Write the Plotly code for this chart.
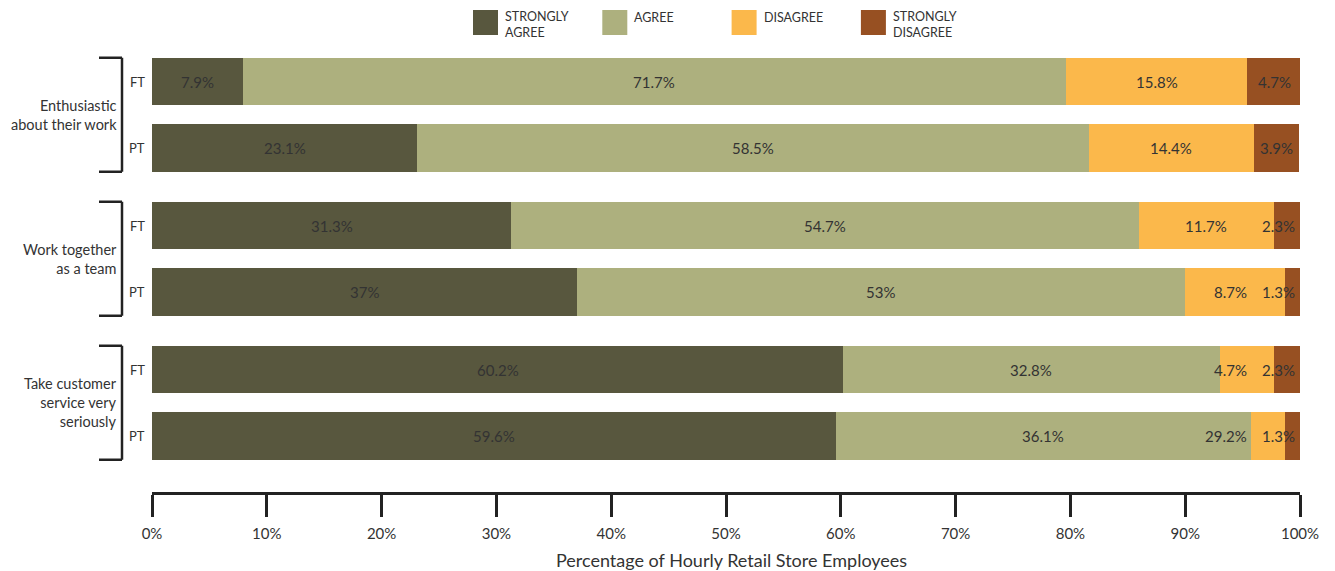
import plotly.graph_objects as go

# ---------------- data ----------------
groups = ["Enthusiastic<br>about their work", "Work together<br>as a team", "Take customer<br>service very<br>seriously"]
subgroups = ["FT", "PT"]
series_names = ["STRONGLY<br>AGREE", "AGREE", "DISAGREE", "STRONGLY<br>DISAGREE"]
series_colors = ["#58573E", "#ADB07E", "#FBB84B", "#975022"]

# rows: Enth FT, Enth PT, Team FT, Team PT, Cust FT, Cust PT
strongly_agree = [7.9, 23.1, 31.3, 37.0, 60.2, 59.6]
agree = [71.7, 58.5, 54.7, 53.0, 32.8, 36.1]
disagree = [15.8, 14.4, 11.7, 8.7, 4.7, 3.0]
strongly_disagree = [4.7, 3.9, 2.3, 1.3, 2.3, 1.3]

label_sa = ["7.9%", "23.1%", "31.3%", "37%", "60.2%", "59.6%"]
label_a = ["71.7%", "58.5%", "54.7%", "53%", "32.8%", "36.1%"]
label_d = ["15.8%", "14.4%", "11.7%", "8.7%", "4.7%", "29.2%"]
label_sd = ["4.7%", "3.9%", "2.3%", "1.3%", "2.3%", "1.3%"]

x_ticks = [0, 10, 20, 30, 40, 50, 60, 70, 80, 90, 100]
x_ticktext = ["0%", "10%", "20%", "30%", "40%", "50%", "60%", "70%", "80%", "90%", "100%"]
x_title = "Percentage of Hourly Retail Store Employees"

# ---------------- layout helpers ----------------
FONT = "Lato"
TXT = "#333333"
OFF = 8  # page body margin offset
PLOT_L, PLOT_R, PLOT_T, PLOT_B = 152, 1300, 50, 492  # target pixel box in screenshot
W, H = 1335 - OFF, 571 - OFF
L = PLOT_L - OFF
T = PLOT_T - OFF
R = W - (PLOT_R - OFF)
B = H - (PLOT_B - OFF)
PW = PLOT_R - PLOT_L
PH = PLOT_B - PLOT_T


def px_x(px):
    return (px - PLOT_L) / PW


def px_y(py):
    return (PLOT_B - py) / PH


UNIT = 66.5            # px per y unit
GPITCH = 144 / UNIT    # group pitch
BARW = 47.5 / UNIT
FIRST = 81.5           # px centre of first bar

ypos = []
for g in range(len(groups)):
    for s in range(len(subgroups)):
        ypos.append(g * GPITCH + s)

series_vals = [strongly_agree, agree, disagree, strongly_disagree]
series_labels = [label_sa, label_a, label_d, label_sd]

fig = go.Figure()
for name, col, vals in zip(series_names, series_colors, series_vals):
    fig.add_trace(go.Bar(
        x=vals, y=ypos, orientation="h", width=BARW,
        marker=dict(color=col, line=dict(width=0)),
        name=name.replace("<br>", " "), hoverinfo="skip", showlegend=False,
    ))

annotations = []
shapes = []

# value labels (segment centres, nudged left to avoid overlaps)
CH = 0.78   # approx char width in % units
for i in range(len(ypos)):
    starts = []
    c = 0
    for vals in series_vals:
        starts.append(c)
        c += vals[i]
    limit = 99.7
    for k in range(len(series_vals) - 1, -1, -1):
        w = series_vals[k][i]
        txt = series_labels[k][i]
        tw = len(txt) * CH
        center = starts[k] + w / 2
        if center + tw / 2 > limit:
            x, anchor, left = limit, "right", limit - tw
        else:
            x, anchor, left = center, "center", center - tw / 2
        limit = left - 1.0
        annotations.append(dict(
            x=x, y=ypos[i], xref="x", yref="y", text=txt, showarrow=False,
            xanchor=anchor, yanchor="middle",
            font=dict(family=FONT, size=15, color=TXT),
        ))

# FT / PT labels
for i, yp in enumerate(ypos):
    annotations.append(dict(
        x=px_x(147), y=yp, xref="paper", yref="y", text=subgroups[i % 2],
        showarrow=False, xanchor="right", yanchor="middle",
        font=dict(family=FONT, size=13, color=TXT),
    ))

# group labels and brackets
bx = px_x(122)
bx0 = px_x(99)
for g, gname in enumerate(groups):
    top = g * GPITCH - BARW / 2
    bot = g * GPITCH + 1 + BARW / 2
    mid = g * GPITCH + 0.5
    line = dict(color="#222222", width=2.5)
    shapes.append(dict(type="line", xref="paper", yref="y", x0=bx, x1=bx, y0=top, y1=bot, line=line))
    shapes.append(dict(type="line", xref="paper", yref="y", x0=bx0, x1=bx, y0=top, y1=top, line=line))
    shapes.append(dict(type="line", xref="paper", yref="y", x0=bx0, x1=bx, y0=bot, y1=bot, line=line))
    annotations.append(dict(
        x=px_x(119), y=mid, xref="paper", yref="y", text=gname, showarrow=False,
        xanchor="right", yanchor="middle", align="right",
        font=dict(family=FONT, size=14.5, color=TXT),
    ))

# custom legend
for i, (name, col) in enumerate(zip(series_names, series_colors)):
    sx = 473 + i * 129.3
    shapes.append(dict(type="rect", xref="paper", yref="paper",
                       x0=px_x(sx), x1=px_x(sx + 25), y0=px_y(35), y1=px_y(10),
                       fillcolor=col, line=dict(width=0)))
    nlines = name.count("<br>") + 1
    annotations.append(dict(
        x=px_x(sx + 30), y=px_y(17.5 + 7 * (nlines - 1)), xref="paper", yref="paper",
        text=name, showarrow=False, xanchor="left", yanchor="middle", align="left",
        font=dict(family=FONT, size=12.5, color=TXT),
    ))

# axis title
annotations.append(dict(
    x=px_x(731), y=px_y(560), xref="paper", yref="paper", text=x_title, showarrow=False,
    xanchor="center", yanchor="middle",
    font=dict(family=FONT, size=18, color=TXT),
))

y_bottom = (PLOT_B - FIRST) / UNIT
y_top = (PLOT_T - FIRST) / UNIT

fig.update_layout(
    width=W, height=H,
    margin=dict(l=L, r=R, t=T, b=B, pad=0),
    barmode="stack",
    plot_bgcolor="white", paper_bgcolor="white",
    font=dict(family=FONT, color=TXT),
    showlegend=False,
    annotations=annotations,
    shapes=shapes,
    xaxis=dict(
        range=[0, 100], tickmode="array", tickvals=x_ticks, ticktext=x_ticktext,
        showgrid=False, zeroline=False,
        showline=True, linecolor="#222222", linewidth=2.5,
        ticks="outside", ticklen=22, tickwidth=2.5, tickcolor="#222222",
        ticklabelstandoff=4,
        tickfont=dict(family=FONT, size=15, color=TXT),
        fixedrange=True,
    ),
    yaxis=dict(
        range=[y_bottom, y_top], showgrid=False, zeroline=False,
        showticklabels=False, showline=False, ticks="", fixedrange=True,
    ),
)

fig.write_html("out.html")
